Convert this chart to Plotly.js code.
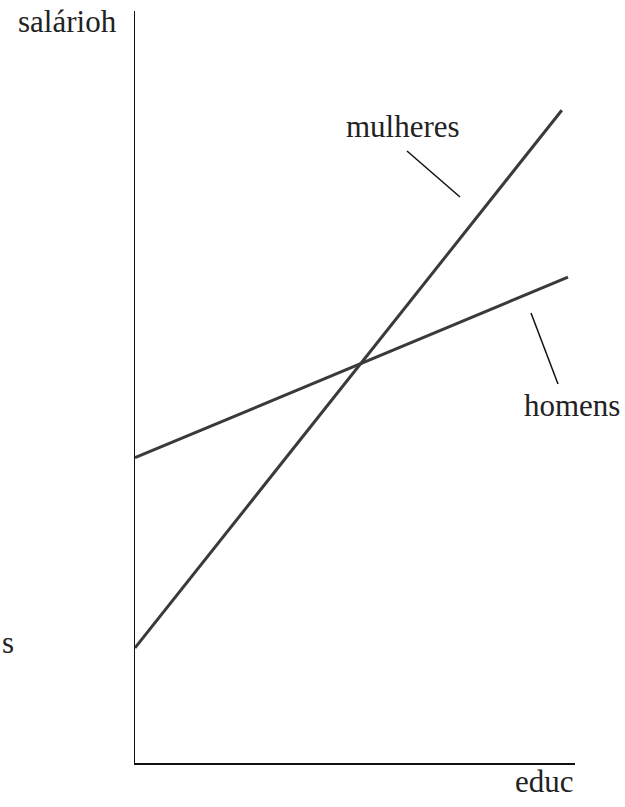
<!DOCTYPE html>
<html>
<head>
<meta charset="utf-8">
<script src="https://cdn.plot.ly/plotly-3.0.1.min.js"></script>
<style>
  html, body { margin: 0; padding: 0; background: #fff; }
  #vis { width: 625px; height: 807px; }
</style>
</head>
<body>
<div id="vis"></div>
<script>
// educ values (arbitrary units, no ticks in the original)
const educ = [0, 9.84];
const educMulheres = [0, 9.70];
// salárioh for each group
const homens = [4.06, 6.46];
const mulheres = [1.53, 8.68];

const serif = 'Liberation Serif, Times New Roman, serif';
const lineColor = '#3a3a3a';

const data = [
  {
    x: educ, y: homens,
    type: 'scatter', mode: 'lines', name: 'homens',
    line: { color: lineColor, width: 3 },
    hoverinfo: 'skip'
  },
  {
    x: educMulheres, y: mulheres,
    type: 'scatter', mode: 'lines', name: 'mulheres',
    line: { color: lineColor, width: 3 },
    hoverinfo: 'skip'
  }
];

function label(text, x, y, anchor) {
  return {
    text: text, xref: 'paper', yref: 'paper',
    x: x, y: y, xanchor: anchor || 'left', yanchor: 'middle',
    showarrow: false,
    font: { family: serif, size: 31, color: '#222' }
  };
}

// pixel -> paper helpers for the plot box (135..575 x, 11..763 y)
const px = v => (v - 135) / 440;
const py = v => (763 - v) / 752;

const layout = {
  width: 625,
  height: 807,
  margin: { l: 135, r: 50, t: 11, b: 44 },
  paper_bgcolor: '#fff',
  plot_bgcolor: '#fff',
  showlegend: false,
  xaxis: {
    range: [0, 10], showline: true, linecolor: '#111', linewidth: 1.5,
    showgrid: false, zeroline: false, showticklabels: false, ticks: ''
  },
  yaxis: {
    range: [0, 10], showline: true, linecolor: '#111', linewidth: 1.5,
    showgrid: false, zeroline: false, showticklabels: false, ticks: ''
  },
  shapes: [
    // pointer for mulheres
    { type: 'line', xref: 'paper', yref: 'paper',
      x0: px(407), y0: py(151), x1: px(460), y1: py(197),
      line: { color: '#111', width: 1.5 } },
    // pointer for homens
    { type: 'line', xref: 'paper', yref: 'paper',
      x0: px(531), y0: py(313), x1: px(558), y1: py(384),
      line: { color: '#111', width: 1.5 } }
  ],
  annotations: [
    label('salárioh', px(16), py(21)),
    label('educ', px(513), py(781)),
    label('mulheres', px(344), py(126)),
    label('homens', px(522), py(405)),
    label('s', px(0), py(642))
  ]
};

Plotly.newPlot('vis', data, layout, { staticPlot: true, displayModeBar: false });
</script>
</body>
</html>
